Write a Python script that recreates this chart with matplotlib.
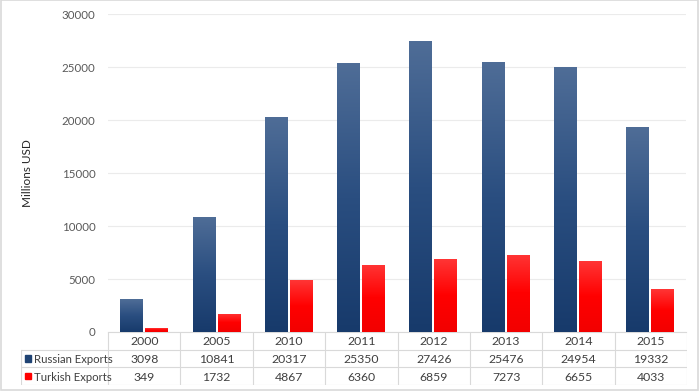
import matplotlib.pyplot as plt
import numpy as np
from matplotlib.colors import LinearSegmentedColormap
from matplotlib.patches import Rectangle

years = ['2000', '2005', '2010', '2011', '2012', '2013', '2014', '2015']
russian = [3098, 10841, 20317, 25350, 27426, 25476, 24954, 19332]
turkish = [349, 1732, 4867, 6360, 6859, 7273, 6655, 4033]
series_names = ['Russian Exports', 'Turkish Exports']

plt.rcParams['font.family'] = ['Lato', 'DejaVu Sans']
W, H = 700, 392
fig = plt.figure(figsize=(7, 3.92), dpi=100)


def px(x0, y0, x1, y1):
    # pixel box -> figure fraction [left, bottom, width, height]
    return [x0 / W, 1 - y1 / H, (x1 - x0) / W, (y1 - y0) / H]


ax = fig.add_axes(px(108, 14, 686, 332))
blue_cm = LinearSegmentedColormap.from_list('b', ['#173a6b', '#2a4e80', '#4f6d97'])
red_cm = LinearSegmentedColormap.from_list('r', ['#f20000', '#ff0000', '#ff3535'])
grad = np.linspace(0, 1, 256).reshape(-1, 1)

x = np.arange(len(years))
bw = 0.31
gap = 0.035
for vals, off, cm in [(russian, -(bw + gap) / 2, blue_cm), (turkish, (bw + gap) / 2, red_cm)]:
    bars = ax.bar(x + off, vals, width=bw, color='none', edgecolor='none', zorder=3)
    for b in bars:
        x0, y0, w, h = b.get_x(), b.get_y(), b.get_width(), b.get_height()
        im = ax.imshow(grad, cmap=cm, origin='lower', aspect='auto',
                       extent=[x0, x0 + w, y0, y0 + h], zorder=3)
        im.set_clip_path(b)

ax.set_xlim(-0.5, len(years) - 0.5)
ax.set_ylim(0, 30000)
ax.set_yticks(range(0, 30001, 5000))
ax.set_xticks([])
ax.tick_params(axis='y', length=0, pad=9, labelsize=8.3, labelcolor='#595959')
ax.grid(axis='y', color='#ebebeb', linewidth=0.8, zorder=0)
for s in ['top', 'right', 'left']:
    ax.spines[s].set_visible(False)
ax.spines['bottom'].set_color('#d9d9d9')
ax.set_ylabel('Millions USD', fontsize=8.5, color='#262626', labelpad=21)

# data table below
tx = fig.add_axes(px(21, 332, 687, 385))
unit = 578 / len(years)
left = -0.5 - 87 / unit
tx.set_xlim(left, len(years) - 0.5)
tx.set_ylim(3, 0)
tx.axis('off')
lc = '#d9d9d9'
tx.plot([-0.5, -0.5], [0, 3], color=lc, lw=0.8)
for i in range(1, len(years) + 1):
    tx.plot([i - 0.5, i - 0.5], [0, 3], color=lc, lw=0.8)
tx.plot([left, left], [1, 3], color=lc, lw=0.8)
for r in [1, 2, 3]:
    tx.plot([left, len(years) - 0.5], [r, r], color=lc, lw=0.8)
fs = 8.8
for i, yr in enumerate(years):
    tx.text(i, 0.55, yr, ha='center', va='center', fontsize=fs, color='#404040')
    tx.text(i, 1.55, str(russian[i]), ha='center', va='center', fontsize=fs, color='#404040')
    tx.text(i, 2.55, str(turkish[i]), ha='center', va='center', fontsize=fs, color='#404040')
for r, (name, col) in enumerate(zip(series_names, ['#1f4373', '#ff0000'])):
    tx.add_patch(Rectangle((left + 0.06, r + 1.32), 0.085, 0.36, color=col, clip_on=False))
    tx.text(left + 0.18, r + 1.55, name, ha='left', va='center', fontsize=8.2, color='#404040')

# outer border
fig.add_artist(Rectangle((0.001, 0.004), 0.996, 0.995, transform=fig.transFigure,
                         fill=False, edgecolor='#d9d9d9', lw=1.2))

fig.savefig('out.png', dpi=100)
